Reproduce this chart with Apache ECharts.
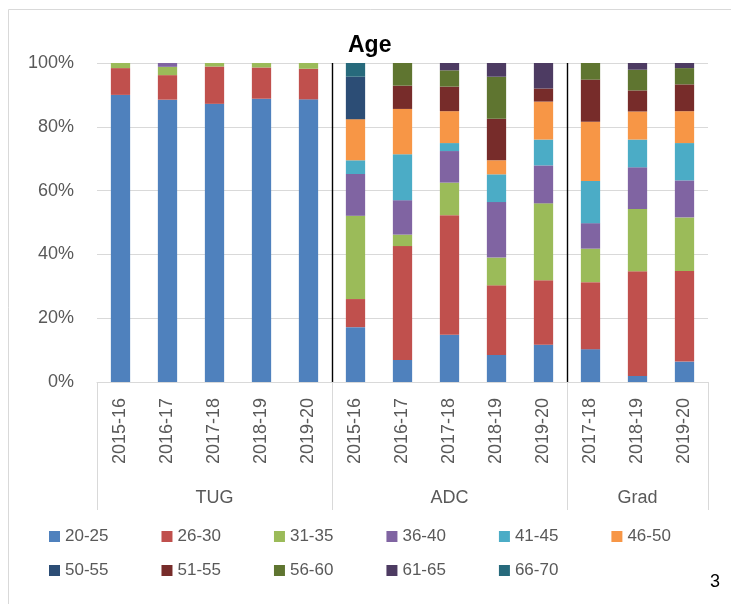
<!DOCTYPE html>
<html>
<head>
<meta charset="utf-8">
<script src="https://cdn.jsdelivr.net/npm/echarts@6/dist/echarts.min.js"></script>
<style>
  html, body { margin: 0; padding: 0; background: #fff; }
  #chart { width: 731px; height: 604px; }
</style>
</head>
<body>
<div id="chart"></div>
<script>
// categories (year) and their group on the second axis level
let years = ["2015-16", "2016-17", "2017-18", "2018-19", "2019-20",
  "2015-16", "2016-17", "2017-18", "2018-19", "2019-20",
  "2017-18", "2018-19", "2019-20"];
let groups = ["", "", "TUG", "", "", "", "", "ADC", "", "", "", "Grad", ""];

let ageBands = ["20-25", "26-30", "31-35", "36-40", "41-45", "46-50",
  "50-55", "51-55", "56-60", "61-65", "66-70"];

// share of each age band per column, in %
let age20_25 = [90.0, 88.5, 87.2, 88.8, 88.6, 17.2, 6.9, 14.8, 8.5, 11.7, 10.3, 1.9, 6.4];
let age26_30 = [8.4, 7.7, 11.7, 9.8, 9.6, 8.8, 35.7, 37.5, 21.8, 20.2, 21.0, 32.8, 28.4];
let age31_35 = [1.6, 2.6, 1.1, 1.4, 1.8, 26.1, 3.6, 10.2, 8.7, 24.1, 10.5, 19.5, 16.8];
let age36_40 = [0, 1.2, 0, 0, 0, 13.1, 10.8, 9.9, 17.4, 11.9, 8.0, 13.1, 11.6];
let age41_45 = [0, 0, 0, 0, 0, 4.3, 14.4, 2.5, 8.7, 8.1, 13.2, 8.7, 11.7];
let age46_50 = [0, 0, 0, 0, 0, 12.9, 14.2, 10.0, 4.4, 11.9, 18.6, 8.8, 10.0];
let age50_55 = [0, 0, 0, 0, 0, 13.3, 0, 0, 0, 0, 0, 0, 0];
let age51_55 = [0, 0, 0, 0, 0, 0, 7.3, 7.7, 13.0, 4.1, 13.2, 6.6, 8.4];
let age56_60 = [0, 0, 0, 0, 0, 0, 7.1, 5.1, 13.2, 0, 5.2, 6.5, 5.1];
let age61_65 = [0, 0, 0, 0, 0, 0, 0, 2.3, 4.3, 8.0, 0, 2.1, 1.6];
let age66_70 = [0, 0, 0, 0, 0, 4.3, 0, 0, 0, 0, 0, 0, 0];

let yTicks = [0, 20, 40, 60, 80, 100];

let bandValues = [age20_25, age26_30, age31_35, age36_40, age41_45, age46_50,
  age50_55, age51_55, age56_60, age61_65, age66_70];

let colors = ["#4F81BD", "#C0504D", "#9BBB59", "#8064A2", "#4BACC6", "#F79646",
  "#2C4D75", "#772C2A", "#5F7530", "#4D3B62", "#276A7C"];

let font = "'Liberation Sans', Arial, sans-serif";
let grey = "#595959";

let series = ageBands.map((name, i) => {
  return {
    name: name,
    type: "bar",
    stack: "age",
    barWidth: "41%",
    xAxisIndex: 0,
    itemStyle: { color: colors[i] },
    data: bandValues[i].map((v) => (v > 0 ? v : null)),
  };
});

let legendStyle = {
  orient: "horizontal",
  left: 49,
  padding: 0,
  itemWidth: 11,
  itemHeight: 11,
  itemGap: 53,
  icon: "rect",
  textStyle: { color: grey, fontSize: 17, fontFamily: font },
};

let myChart = echarts.init(document.getElementById("chart"));
let option = {
  animation: false,
  color: colors,
  title: {
    text: "Age",
    left: 343,
    top: 29,
    textStyle: { fontSize: 23, fontWeight: "bold", color: "#000", fontFamily: font },
  },
  legend: [
    Object.assign({ top: 528, data: ageBands.slice(0, 6) }, legendStyle),
    Object.assign({ top: 562, data: ageBands.slice(6) }, legendStyle),
  ],
  grid: {
    left: 97,
    right: 23,
    top: 63,
    bottom: 222,
  },
  xAxis: [
    {
      type: "category",
      data: years,
      position: "bottom",
      axisLine: { show: true, lineStyle: { color: "#d9d9d9", width: 1 } },
      axisTick: { show: false },
      splitLine: { show: false },
      axisLabel: {
        interval: 0,
        rotate: 90,
        margin: 16,
        color: grey,
        fontSize: 18,
        fontFamily: font,
      },
    },
    {
      // second level: groups, with the dividers
      type: "category",
      data: groups,
      position: "bottom",
      axisLine: { show: false },
      axisTick: {
        show: true,
        length: 128,
        interval: (i) => i === 0 || i === 5 || i === 10,
        lineStyle: { color: "#d9d9d9", width: 1 },
      },
      splitLine: {
        show: true,
        interval: (i) => i === 0 || i === 5 || i === 10,
        lineStyle: { color: ["rgba(0,0,0,0)", "#000", "#000", "rgba(0,0,0,0)"], width: 1.4 },
      },
      axisLabel: {
        interval: 0,
        margin: 107,
        color: grey,
        fontSize: 18,
        fontFamily: font,
      },
    },
  ],
  yAxis: {
    type: "value",
    min: yTicks[0],
    max: yTicks[yTicks.length - 1],
    interval: yTicks[1] - yTicks[0],
    axisLine: { show: false },
    axisTick: { show: false },
    splitLine: { lineStyle: { color: "#d9d9d9", width: 1.2 } },
    axisLabel: {
      margin: 23,
      color: grey,
      fontSize: 18,
      fontFamily: font,
      formatter: "{value}%",
    },
  },
  graphic: [
    {
      type: "rect",
      left: 6,
      top: 7,
      shape: { width: 760, height: 640 },
      style: { fill: "none", stroke: "#d9d9d9", lineWidth: 1 },
      silent: true,
      z: -1,
    },
    {
      type: "text",
      left: 710,
      top: 573,
      style: { text: "3", fontSize: 18, fill: "#000", fontFamily: font },
    },
  ],
  series: series,
};
myChart.setOption(option);
</script>
</body>
</html>
